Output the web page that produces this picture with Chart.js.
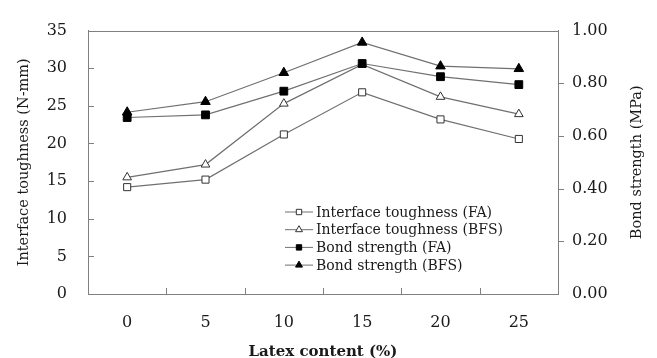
<!DOCTYPE html>
<html>
<head>
<meta charset="utf-8">
<script src="https://cdn.jsdelivr.net/npm/chart.js@4"></script>
<style>
  body { margin: 0; background: #fff; }
</style>
</head>
<body>
<canvas id="latexChart" width="657" height="358"></canvas>
<script>
// categories and series
var latexContent = ['0', '5', '10', '15', '20', '25'];
var toughnessFA = [14.2, 15.2, 21.2, 26.8, 23.2, 20.6];
var toughnessBFS = [15.5, 17.2, 25.3, 30.5, 26.2, 23.9];
var bondFA = [0.67, 0.68, 0.77, 0.875, 0.825, 0.795];
var bondBFS = [0.69, 0.73, 0.84, 0.955, 0.865, 0.855];
var seriesNames = ['Interface toughness (FA)', 'Interface toughness (BFS)', 'Bond strength (FA)', 'Bond strength (BFS)'];

var serif = "'DejaVu Serif', 'Liberation Serif', serif";
var axisGray = '#808080';
var lineGray = '#707070';
var ink = '#1a1a1a';

// inward ticks, top border, right title and the legend inside the plot
var framePlugin = {
    id: 'frame',
    afterDraw: function (chart) {
        var ctx = chart.ctx;
        var a = chart.chartArea;
        var x = chart.scales.x, y = chart.scales.y, y1 = chart.scales.y1;
        ctx.save();
        ctx.strokeStyle = axisGray;
        ctx.lineWidth = 1;
        ctx.beginPath();
        ctx.moveTo(a.left, Math.round(a.top) + 0.5);
        ctx.lineTo(a.right, Math.round(a.top) + 0.5);
        y.ticks.forEach(function (t) {
            if (t.value === 0 || t.value === 35) return;
            var py = Math.round(y.getPixelForValue(t.value)) + 0.5;
            ctx.moveTo(a.left, py);
            ctx.lineTo(a.left + 6, py);
        });
        y1.ticks.forEach(function (t) {
            if (t.value < 0.1 || t.value > 0.9) return;
            var py = Math.round(y1.getPixelForValue(t.value)) + 0.5;
            ctx.moveTo(a.right, py);
            ctx.lineTo(a.right + 6, py);
        });
        for (var i = 1; i < latexContent.length; i++) {
            var px = Math.round((x.getPixelForValue(i - 1) + x.getPixelForValue(i)) / 2) + 0.5;
            ctx.moveTo(px, a.bottom);
            ctx.lineTo(px, a.bottom - 6);
        }
        ctx.stroke();

        // right axis title, reading upwards like the left one
        ctx.save();
        ctx.translate(637, (a.top + a.bottom) / 2);
        ctx.rotate(-Math.PI / 2);
        ctx.font = '14.5px ' + serif;
        ctx.fillStyle = ink;
        ctx.textAlign = 'center';
        ctx.textBaseline = 'middle';
        ctx.fillText('Bond strength (MPa)', 0, 0);
        ctx.restore();

        // legend
        var lx = 285, ly = 212, rowH = 17.7;
        ctx.font = '14px ' + serif;
        ctx.textBaseline = 'middle';
        ctx.textAlign = 'left';
        chart.data.datasets.forEach(function (ds, i) {
            var yy = ly + i * rowH;
            ctx.strokeStyle = lineGray;
            ctx.lineWidth = 1;
            ctx.beginPath();
            ctx.moveTo(lx, yy);
            ctx.lineTo(lx + 28, yy);
            ctx.stroke();
            ctx.fillStyle = ds.pointBackgroundColor;
            ctx.strokeStyle = ds.pointBorderColor;
            Chart.helpers.drawPoint(ctx, {
                pointStyle: ds.pointStyle,
                radius: ds.pointStyle === 'triangle' ? 4 : 3.8,
                rotation: 0,
                borderWidth: 1
            }, lx + 14, yy);
            ctx.fillStyle = ink;
            ctx.fillText(ds.label, lx + 31, yy + 1);
        });
        ctx.restore();
    }
};

var ctx = document.getElementById('latexChart').getContext('2d');
var chart = new Chart(ctx, {
    type: 'line',
    data: {
        labels: latexContent,
        datasets: [{
            label: seriesNames[0],
            data: toughnessFA,
            yAxisID: 'y',
            borderColor: lineGray,
            borderWidth: 1.2,
            pointStyle: 'rect',
            pointRadius: 5,
            pointBackgroundColor: '#ffffff',
            pointBorderColor: '#333333',
            pointBorderWidth: 1,
            order: 2
        }, {
            label: seriesNames[1],
            data: toughnessBFS,
            yAxisID: 'y',
            borderColor: lineGray,
            borderWidth: 1.2,
            pointStyle: 'triangle',
            pointRadius: 5,
            pointBackgroundColor: '#ffffff',
            pointBorderColor: '#333333',
            pointBorderWidth: 1,
            order: 2
        }, {
            label: seriesNames[2],
            data: bondFA,
            yAxisID: 'y1',
            borderColor: lineGray,
            borderWidth: 1.2,
            pointStyle: 'rect',
            pointRadius: 5.5,
            pointBackgroundColor: '#000000',
            pointBorderColor: '#000000',
            pointBorderWidth: 1,
            order: 1
        }, {
            label: seriesNames[3],
            data: bondBFS,
            yAxisID: 'y1',
            borderColor: lineGray,
            borderWidth: 1.2,
            pointStyle: 'triangle',
            pointRadius: 5.5,
            pointBackgroundColor: '#000000',
            pointBorderColor: '#000000',
            pointBorderWidth: 1,
            order: 1
        }]
    },
    options: {
        responsive: false,
        animation: false,
        layout: { padding: { top: 20, left: 0, right: 0, bottom: 0 } },
        plugins: {
            legend: { display: false },
            tooltip: { enabled: false }
        },
        scales: {
            x: {
                offset: true,
                grid: { display: false, drawTicks: false },
                border: { display: true, color: axisGray, width: 1 },
                ticks: { color: ink, padding: 19, font: { family: serif, size: 16 } },
                title: {
                    display: true,
                    text: 'Latex content (%)',
                    color: ink,
                    font: { family: serif, size: 15, weight: 'bold' },
                    padding: { top: 0, bottom: -3 }
                },
                afterFit: function (s) { s.height = 64; }
            },
            y: {
                position: 'left',
                min: 0,
                max: 35,
                grid: { display: false, drawTicks: false },
                border: { display: true, color: axisGray, width: 1 },
                ticks: { stepSize: 5, color: ink, padding: 21, font: { family: serif, size: 16 } },
                title: {
                    display: true,
                    text: 'Interface toughness (N-mm)',
                    color: ink,
                    font: { family: serif, size: 14.5 },
                    padding: { top: 16, bottom: 0 }
                },
                afterFit: function (s) { s.width = 88; }
            },
            y1: {
                position: 'right',
                min: 0,
                max: 1,
                grid: { display: false, drawTicks: false },
                border: { display: true, color: axisGray, width: 1 },
                ticks: {
                    stepSize: 0.2,
                    color: ink,
                    padding: 14,
                    font: { family: serif, size: 16 },
                    callback: function (v) { return Number(v).toFixed(2); }
                },
                title: { display: false },
                afterFit: function (s) { s.width = 99; }
            }
        }
    },
    plugins: [framePlugin]
});
</script>
</body>
</html>
